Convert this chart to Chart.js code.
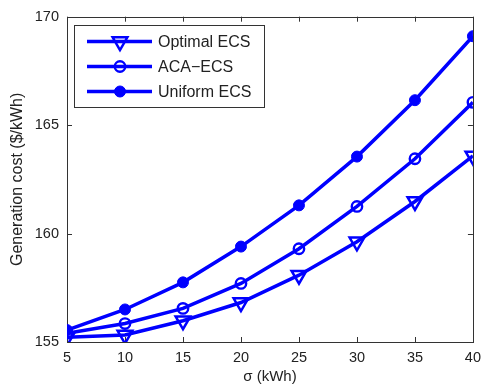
<!DOCTYPE html>
<html>
<head>
<meta charset="utf-8">
<script src="https://cdn.jsdelivr.net/npm/chart.js@4.4.1/dist/chart.umd.min.js"></script>
<style>
  html, body { margin: 0; padding: 0; background: #fff; }
  #wrap { width: 488px; height: 387px; }
</style>
</head>
<body>
<div id="wrap"><canvas id="costChart" width="488" height="387"></canvas></div>
<script>
  // σ values (kWh) and generation cost per scheme ($/kWh)
  const sigma = [5, 10, 15, 20, 25, 30, 35, 40];
  const optimalEcs = [155.22, 155.32, 155.98, 156.82, 158.08, 159.62, 161.48, 163.58];
  const acaEcs = [155.4, 155.85, 156.55, 157.7, 159.3, 161.25, 163.45, 166.05];
  const uniformEcs = [155.55, 156.5, 157.75, 159.4, 161.3, 163.55, 166.15, 169.1];
  const xTicks = [5, 10, 15, 20, 25, 30, 35, 40];
  const yTicks = [155, 160, 165, 170];

  const BLUE = "#0000ff";
  const INK = "#222";
  const FONT = "'Liberation Sans', Arial, sans-serif";

  function pts(ys) {
    return sigma.map((x, i) => ({ x, y: ys[i] }));
  }

  const seriesStyle = {
    borderColor: BLUE,
    borderWidth: 3.5,
    pointBorderColor: BLUE,
    tension: 0,
    fill: false,
  };

  const datasets = [
    {
      ...seriesStyle,
      label: "Optimal ECS",
      data: pts(optimalEcs),
      pointStyle: "triangle",
      rotation: 180,
      pointRadius: 8.5,
      pointBorderWidth: 2.5,
      pointBackgroundColor: "rgba(0,0,0,0)",
    },
    {
      ...seriesStyle,
      label: "ACA\u2212ECS",
      data: pts(acaEcs),
      pointStyle: "circle",
      pointRadius: 5.2,
      pointBorderWidth: 2.4,
      pointBackgroundColor: "rgba(0,0,0,0)",
    },
    {
      ...seriesStyle,
      label: "Uniform ECS",
      data: pts(uniformEcs),
      pointStyle: "circle",
      pointRadius: 5.5,
      pointBorderWidth: 1,
      pointBackgroundColor: BLUE,
    },
  ];

  // axes box with inward ticks on all four sides
  const boxPlugin = {
    id: "axesBox",
    beforeDatasetsDraw(chart) {
      const { ctx, chartArea: a, scales } = chart;
      const len = 5;
      ctx.save();
      ctx.strokeStyle = "#333";
      ctx.lineWidth = 1;
      ctx.strokeRect(Math.round(a.left) + 0.5, Math.round(a.top) + 0.5,
        Math.round(a.right - a.left), Math.round(a.bottom - a.top));
      ctx.beginPath();
      xTicks.forEach((v) => {
        const px = Math.round(scales.x.getPixelForValue(v)) + 0.5;
        ctx.moveTo(px, a.bottom); ctx.lineTo(px, a.bottom - len);
        ctx.moveTo(px, a.top); ctx.lineTo(px, a.top + len);
      });
      yTicks.forEach((v) => {
        const py = Math.round(scales.y.getPixelForValue(v)) + 0.5;
        ctx.moveTo(a.left, py); ctx.lineTo(a.left + len, py);
        ctx.moveTo(a.right, py); ctx.lineTo(a.right - len, py);
      });
      ctx.stroke();
      ctx.restore();
    },
  };

  // legend box in the upper left corner of the plot
  const legendPlugin = {
    id: "insetLegend",
    afterDatasetsDraw(chart) {
      const { ctx } = chart;
      const bx = 74.5, by = 25.5, bw = 190, bh = 82;
      ctx.save();
      ctx.fillStyle = "#fff";
      ctx.fillRect(bx, by, bw, bh);
      ctx.strokeStyle = "#333";
      ctx.lineWidth = 1;
      ctx.strokeRect(bx, by, bw, bh);
      const rows = [41.5, 66.5, 91.5];
      chart.data.datasets.forEach((ds, i) => {
        const y = rows[i];
        ctx.strokeStyle = ds.borderColor;
        ctx.lineWidth = ds.borderWidth;
        ctx.beginPath();
        ctx.moveTo(87, y);
        ctx.lineTo(152, y);
        ctx.stroke();
        ctx.lineWidth = ds.pointBorderWidth;
        ctx.strokeStyle = ds.pointBorderColor;
        ctx.fillStyle = ds.pointBackgroundColor;
        Chart.helpers.drawPoint(ctx, {
          pointStyle: ds.pointStyle,
          rotation: ds.rotation || 0,
          radius: ds.pointRadius,
          borderWidth: ds.pointBorderWidth,
        }, 120, y);
        ctx.fillStyle = INK;
        ctx.font = "16px " + FONT;
        ctx.textBaseline = "middle";
        ctx.textAlign = "left";
        ctx.fillText(ds.label, 158, y + 1);
      });
      ctx.restore();
    },
  };

  new Chart(document.getElementById("costChart"), {
    type: "line",
    data: { datasets },
    plugins: [boxPlugin, legendPlugin],
    options: {
      responsive: false,
      animation: false,
      layout: { padding: { left: 0, top: 16, right: 10, bottom: 0 } },
      plugins: { legend: { display: false }, tooltip: { enabled: false } },
      scales: {
        x: {
          type: "linear",
          min: 5,
          max: 40,
          afterBuildTicks: (s) => { s.ticks = xTicks.map((v) => ({ value: v })); },
          afterFit: (s) => { s.height = 45; },
          grid: { display: false, drawTicks: false },
          border: { display: false },
          ticks: { color: INK, font: { family: FONT, size: 14.5 }, padding: 7, maxRotation: 0 },
          title: { display: true, text: "\u03c3 (kWh)", color: INK, font: { family: FONT, size: 15 }, padding: 1 },
        },
        y: {
          min: 155,
          max: 170,
          afterBuildTicks: (s) => { s.ticks = yTicks.map((v) => ({ value: v })); },
          afterFit: (s) => { s.width = 67; },
          grid: { display: false, drawTicks: false },
          border: { display: false },
          ticks: { color: INK, font: { family: FONT, size: 14.5 }, padding: 8 },
          title: { display: true, text: "Generation cost ($/kWh)", color: INK, font: { family: FONT, size: 16 }, padding: 8 },
        },
      },
    },
  });
</script>
</body>
</html>
